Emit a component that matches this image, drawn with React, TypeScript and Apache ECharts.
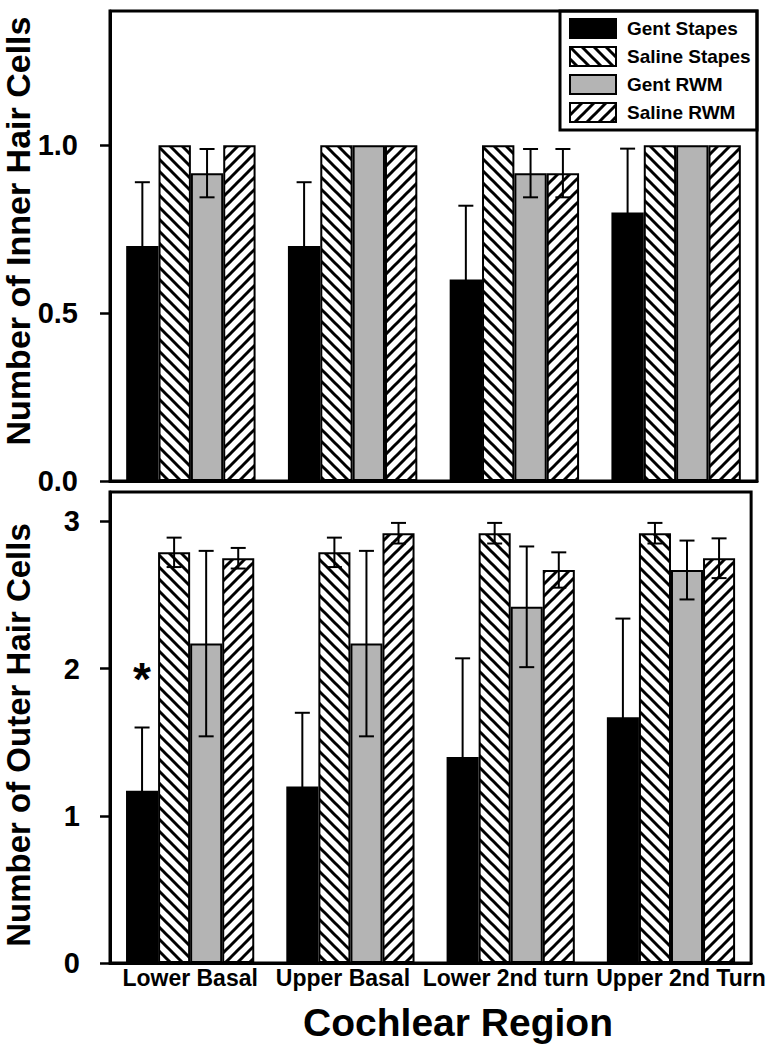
import React, { useEffect, useRef } from "react";
import * as echarts from "echarts";

const categories = ["Lower Basal", "Upper Basal", "Lower 2nd turn", "Upper 2nd Turn"];
const seriesNames = ["Gent Stapes", "Saline Stapes", "Gent RWM", "Saline RWM"];

// Inner hair cells (means and SE)
const gentStapesIHC = [0.7, 0.7, 0.6, 0.8];
const gentStapesIHCErr = [0.19, 0.19, 0.22, 0.19];
const salineStapesIHC = [1, 1, 1, 1];
const salineStapesIHCErr = [0, 0, 0, 0];
const gentRwmIHC = [0.917, 1, 0.917, 1];
const gentRwmIHCErr = [0.072, 0, 0.072, 0];
const salineRwmIHC = [1, 1, 0.917, 1];
const salineRwmIHCErr = [0, 0, 0.072, 0];

// Outer hair cells (means and SE)
const gentStapesOHC = [1.17, 1.2, 1.4, 1.67];
const gentStapesOHCErr = [0.43, 0.5, 0.67, 0.67];
const salineStapesOHC = [2.79, 2.79, 2.92, 2.92];
const salineStapesOHCErr = [0.1, 0.1, 0.07, 0.07];
const gentRwmOHC = [2.17, 2.17, 2.42, 2.67];
const gentRwmOHCErr = [0.63, 0.63, 0.41, 0.2];
const salineRwmOHC = [2.75, 2.92, 2.67, 2.75];
const salineRwmOHCErr = [0.07, 0.07, 0.12, 0.135];

const ihcTicks = [0, 0.5, 1.0];
const ohcTicks = [0, 1, 2, 3];

const FONT = "'Liberation Sans', Arial, Helvetica, sans-serif";

function makeHatch(dir: "back" | "fwd") {
  const s = 12;
  const c = document.createElement("canvas");
  c.width = s;
  c.height = s;
  const ctx = c.getContext("2d")!;
  ctx.fillStyle = "#ffffff";
  ctx.fillRect(0, 0, s, s);
  ctx.strokeStyle = "#000000";
  ctx.lineWidth = 3;
  ctx.lineCap = "square";
  for (const x0 of [-s, 0, s]) {
    ctx.beginPath();
    if (dir === "back") {
      ctx.moveTo(x0, 0);
      ctx.lineTo(x0 + s, s);
    } else {
      ctx.moveTo(x0, s);
      ctx.lineTo(x0 + s, 0);
    }
    ctx.stroke();
  }
  return { image: c, repeat: "repeat", imageWidth: s, imageHeight: s } as any;
}

export default function App() {
  const ref = useRef<HTMLDivElement>(null);

  useEffect(() => {
    if (!ref.current) return;
    const chart = echarts.init(ref.current, null, { renderer: "svg" });

    const fills: any[] = ["#000000", makeHatch("back"), "#b4b4b4", makeHatch("fwd")];

    const ihc = [gentStapesIHC, salineStapesIHC, gentRwmIHC, salineRwmIHC];
    const ihcErr = [gentStapesIHCErr, salineStapesIHCErr, gentRwmIHCErr, salineRwmIHCErr];
    const ohc = [gentStapesOHC, salineStapesOHC, gentRwmOHC, salineRwmOHC];
    const ohcErr = [gentStapesOHCErr, salineStapesOHCErr, gentRwmOHCErr, salineRwmOHCErr];

    const barSeries = (vals: number[][], gi: number) =>
      vals.map((v, k) => ({
        type: "bar",
        name: seriesNames[k],
        xAxisIndex: gi,
        yAxisIndex: gi,
        data: v,
        barGap: "0%",
        barCategoryGap: "20%",
        itemStyle: { color: fills[k], borderColor: "#000", borderWidth: 2 },
        z: 2,
      }));

    const errSeries = (vals: number[][], errs: number[][], gi: number) =>
      vals.map((v, k) => ({
        type: "custom",
        xAxisIndex: gi,
        yAxisIndex: gi,
        silent: true,
        z: 10,
        data: v.map((val, i) => [i, val, errs[k][i]]),
        encode: { x: 0, y: 1 },
        renderItem: (params: any, api: any) => {
          const i = api.value(0);
          const val = api.value(1);
          const e = api.value(2);
          if (!e) return null;
          const band = api.size([1, 0])[0];
          const bw = (band * 0.8) / 4;
          const cx = api.coord([i, val])[0] + (k - 1.5) * bw;
          const yt = api.coord([i, val + e])[1];
          const yb = api.coord([i, val - e])[1];
          const h = 7.5;
          const st = { stroke: "#000", lineWidth: 2 };
          return {
            type: "group",
            children: [
              { type: "line", shape: { x1: cx, y1: yt, x2: cx, y2: yb }, style: st },
              { type: "line", shape: { x1: cx - h, y1: yt, x2: cx + h, y2: yt }, style: st },
              { type: "line", shape: { x1: cx - h, y1: yb, x2: cx + h, y2: yb }, style: st },
            ],
          };
        },
      }));

    const yAxisBase = (gi: number, max: number, ticks: number[], fmt: (v: number) => string, margin: number) => ({
      type: "value",
      gridIndex: gi,
      min: 0,
      max,
      splitLine: { show: false },
      axisLine: { show: true, lineStyle: { color: "#000", width: 3 } },
      axisTick: { show: true, length: 10, lineStyle: { color: "#000", width: 2.5 }, customValues: ticks },
      axisLabel: {
        customValues: ticks,
        formatter: fmt,
        color: "#000",
        fontFamily: FONT,
        fontWeight: "bold",
        fontSize: 29,
        margin,
      },
    });

    const lblStyle = (pad: number[]) => ({
      color: "#000",
      fontFamily: FONT,
      fontWeight: "bold",
      fontSize: 23,
      padding: pad,
    });

    const option: any = {
      animation: false,
      backgroundColor: "#ffffff",
      grid: [
        { left: 110, top: 11, width: 647, height: 470, show: true, borderColor: "#000", borderWidth: 3, backgroundColor: "transparent" },
        { left: 110, top: 492, width: 647, height: 471, show: true, borderColor: "#000", borderWidth: 3, backgroundColor: "transparent" },
      ],
      xAxis: [
        {
          type: "category",
          gridIndex: 0,
          data: categories,
          axisLine: { show: true, lineStyle: { color: "#000", width: 3 } },
          axisTick: { show: false },
          axisLabel: { show: false },
        },
        {
          type: "category",
          gridIndex: 1,
          data: categories,
          axisLine: { show: true, lineStyle: { color: "#000", width: 3 } },
          axisTick: { show: false },
          axisLabel: {
            color: "#000",
            fontFamily: FONT,
            fontWeight: "bold",
            fontSize: 23,
            margin: 3,
            interval: 0,
            formatter: (v: string, idx: number) => `{l${idx}|${v}}`,
            rich: {
              l0: lblStyle([0, 0, 0, 0]),
              l1: lblStyle([0, 15, 0, 0]),
              l2: lblStyle([0, 10, 0, 0]),
              l3: lblStyle([0, 0, 0, 20]),
            },
          },
        },
      ],
      yAxis: [
        yAxisBase(0, 1.4, ihcTicks, (v: number) => v.toFixed(1), 32),
        yAxisBase(1, 3.2, ohcTicks, (v: number) => String(Math.round(v)), 30),
      ],
      legend: {
        data: seriesNames,
        orient: "vertical",
        left: 569,
        top: 18,
        padding: 0,
        itemWidth: 46,
        itemHeight: 19,
        itemGap: 7,
        icon: "rect",
        selectedMode: false,
        textStyle: {
          color: "#000",
          fontFamily: FONT,
          fontWeight: "bold",
          fontSize: 19,
          lineHeight: 19,
          padding: [0, 0, 0, 6],
        },
      },
      graphic: [
        {
          type: "rect",
          shape: { x: 560, y: 11, width: 197, height: 119 },
          style: { fill: "transparent", stroke: "#000", lineWidth: 3 },
          z: 100,
        },
        {
          type: "text",
          x: 18,
          y: 231,
          rotation: Math.PI / 2,
          style: {
            text: "Number of Inner Hair Cells",
            font: `bold 34px ${FONT}`,
            fill: "#000",
            textAlign: "center",
            textVerticalAlign: "middle",
          },
        },
        {
          type: "text",
          x: 18,
          y: 735,
          rotation: Math.PI / 2,
          style: {
            text: "Number of Outer Hair Cells",
            font: `bold 33px ${FONT}`,
            fill: "#000",
            textAlign: "center",
            textVerticalAlign: "middle",
          },
        },
        {
          type: "text",
          x: 458,
          y: 1022,
          style: {
            text: "Cochlear Region",
            font: `bold 39px ${FONT}`,
            fill: "#000",
            textAlign: "center",
            textVerticalAlign: "middle",
          },
        },
        {
          type: "text",
          x: 142,
          y: 679,
          style: {
            text: "*",
            font: `bold 46px ${FONT}`,
            fill: "#000",
            textAlign: "center",
            textVerticalAlign: "middle",
          },
        },
      ],
      series: [
        ...barSeries(ihc, 0),
        ...barSeries(ohc, 1),
        ...errSeries(ihc, ihcErr, 0),
        ...errSeries(ohc, ohcErr, 1),
      ],
    };

    chart.setOption(option);
    return () => chart.dispose();
  }, []);

  return (
    <div
      ref={ref}
      style={{ position: "absolute", left: 0, top: 0, width: 768, height: 1050 }}
    />
  );
}
